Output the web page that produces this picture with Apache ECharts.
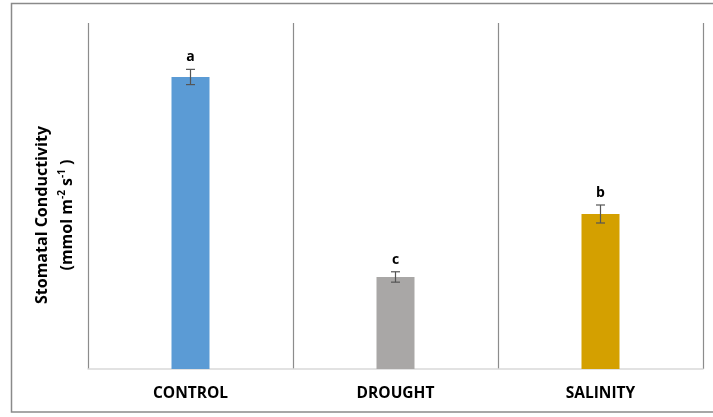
<!DOCTYPE html>
<html>
<head>
<meta charset="utf-8">
<script src="https://cdn.jsdelivr.net/npm/echarts@6/dist/echarts.min.js"></script>
<style>
html,body{margin:0;padding:0;background:#fff;}
#chart{width:713px;height:417px;}
</style>
</head>
<body>
<div id="chart"></div>
<script>
var categories = ['CONTROL', 'DROUGHT', 'SALINITY'];
var meanValues = [84.4, 26.6, 44.8];
var errorValues = [2.2, 1.5, 2.6];
var sigLetters = ['a', 'c', 'b'];
var barColors = ['#5B9BD5', '#A9A7A6', '#D4A000'];

var chart = echarts.init(document.getElementById('chart'), null, {renderer: 'canvas'});
var FONT = '"Open Sans", "Liberation Sans", sans-serif';

var barData = meanValues.map(function (v, i) {
  return { value: v, itemStyle: { color: barColors[i] } };
});
var errData = meanValues.map(function (v, i) {
  return [i, v, errorValues[i]];
});

var option = {
  animation: false,
  backgroundColor: '#fff',
  graphic: [{
    type: 'rect',
    shape: { x: 11.5, y: 3.5, width: 705, height: 408.5 },
    style: { fill: 'none', stroke: '#8a8a8a', lineWidth: 1.5 },
    silent: true
  }],
  grid: { left: 88, right: 10, top: 23, bottom: 48 },
  xAxis: {
    type: 'category',
    data: categories,
    boundaryGap: true,
    axisLine: { show: true, lineStyle: { color: '#d9d9d9', width: 1.5 } },
    axisTick: { show: false },
    splitLine: { show: true, lineStyle: { color: '#8c8c8c', width: 1.2 } },
    axisLabel: {
      color: '#000',
      fontFamily: FONT,
      fontWeight: 'bold',
      fontSize: 15.5,
      margin: 17
    }
  },
  yAxis: {
    type: 'value',
    min: 0,
    max: 100,
    axisLine: { show: false },
    axisTick: { show: false },
    axisLabel: { show: false },
    splitLine: { show: false },
    name: 'Stomatal Conductivity\n(mmol m{sup|-2} s{sup|-1} )',
    nameLocation: 'middle',
    nameRotate: 90,
    nameGap: 8,
    nameTextStyle: {
      color: '#000',
      fontFamily: FONT,
      fontWeight: 'bold',
      fontSize: 16,
      lineHeight: 25,
      padding: [0, 38, 0, 0],
      rich: {
        sup: {
          fontFamily: FONT,
          fontWeight: 'bold',
          fontSize: 10,
          color: '#000',
          verticalAlign: 'top',
          padding: [2, 0, 0, 0]
        }
      }
    }
  },
  series: [{
    type: 'bar',
    data: barData,
    barWidth: 38,
    z: 2
  }, {
    type: 'custom',
    data: errData,
    z: 5,
    renderItem: function (params, api) {
      var x = api.value(0);
      var m = api.value(1);
      var e = api.value(2);
      var top = api.coord([x, m + e]);
      var bot = api.coord([x, m - e]);
      var hw = 4.5;
      var st = { stroke: '#555', lineWidth: 1.2 };
      return {
        type: 'group',
        children: [
          { type: 'line', shape: { x1: top[0], y1: top[1], x2: bot[0], y2: bot[1] }, style: st },
          { type: 'line', shape: { x1: top[0] - hw, y1: top[1], x2: top[0] + hw, y2: top[1] }, style: st },
          { type: 'line', shape: { x1: bot[0] - hw, y1: bot[1], x2: bot[0] + hw, y2: bot[1] }, style: st },
          { type: 'text', x: top[0], y: top[1] - 12,
            style: { text: sigLetters[params.dataIndex], fill: '#000', align: 'center', verticalAlign: 'middle',
                     font: 'bold 14px ' + FONT } }
        ]
      };
    }
  }]
};
chart.setOption(option);
</script>
</body>
</html>
